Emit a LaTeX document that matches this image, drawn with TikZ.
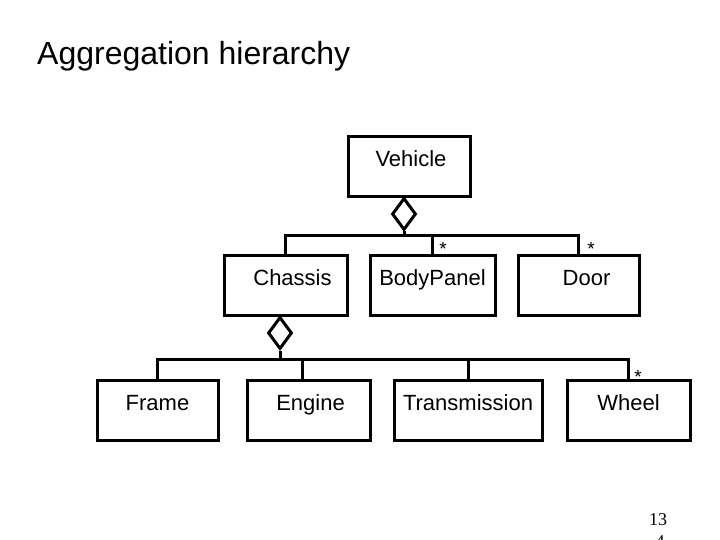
\documentclass[tikz,border=0pt]{standalone}
\usepackage{fontspec}
\setmainfont{Liberation Sans}
\newfontfamily\slidenum{Liberation Serif}
\usetikzlibrary{shapes.geometric}

\begin{document}
\begin{tikzpicture}[x=1pt, y=-1pt,
                    cls/.style = {draw, line width=3pt, shape=rectangle,
                    inner sep=0pt, text height=30pt, text depth=30pt,
                    font=\fontsize{22}{24}\selectfont},
                    agg/.style = {draw, line width=3pt, shape=diamond,
                    inner sep=0pt, minimum width=24pt, minimum height=32pt,
                    anchor=north},
                    link/.style = {line width=3pt},
                    mult/.style = {inner sep=0pt, font=\fontsize{19}{19}\selectfont}]
  \useasboundingbox (0,0) rectangle (720,540);
  \node[anchor=base west, inner sep=0pt, font=\fontsize{32}{36}\selectfont]
    (title) at (37,65) {Aggregation hierarchy};

  % classes
  \node[cls, minimum width=122pt] (vehicle) at (409,166.5) {\hspace*{4pt}Vehicle};
  \node[cls, minimum width=123pt] (chassis) at (285.5,285.5) {\hspace*{14pt}Chassis};
  \node[cls, minimum width=125pt] (panel) at (432.5,285.5) {BodyPanel};
  \node[cls, minimum width=121pt] (door) at (578.5,285.5) {\hspace*{16pt}Door};
  \node[cls, minimum width=121pt] (frame) at (157.5,410.5) {Frame};
  \node[cls, minimum width=123pt] (engine) at (308.5,410.5) {\hspace*{4pt}Engine};
  \node[cls, minimum width=148pt] (trans) at (468,410.5) {Transmission};
  \node[cls, minimum width=123pt] (wheel) at (628.5,410.5) {Wheel};

  % aggregation diamonds
  \node[agg] (vagg) at (404,196.5) {};
  \node[agg] (cagg) at (280,315.5) {};
  \coordinate (vbus) at (404,235);
  \coordinate (cbus) at (280,359);
  \coordinate (etop) at ([xshift=-6pt]engine.north);

  \draw[link] (vagg.south) -- (vbus);
  \draw[link] (chassis.north) -- (chassis.north |- vbus)
    -- (door.north |- vbus) -- (door.north);
  \draw[link] (panel.north |- vbus) -- (panel.north);

  \draw[link] (cagg.south) -- (cbus);
  \draw[link] (frame.north) -- (frame.north |- cbus)
    -- (wheel.north |- cbus) -- (wheel.north);
  \draw[link] (etop |- cbus) -- (etop);
  \draw[link] (trans.north |- cbus) -- (trans.north);

  % multiplicities
  \node[mult] (mpanel) at (443,249) {*};
  \node[mult] (mdoor) at (591,249) {*};
  \node[mult] (mwheel) at (638,377) {*};

  \node[anchor=base, inner sep=0pt, font=\slidenum\fontsize{18}{18}\selectfont]
    (pgno) at (658,525) {13};
  \node[anchor=base, inner sep=0pt, font=\slidenum\fontsize{18}{18}\selectfont]
    (pgcut) at (660,547) {4};
\end{tikzpicture}
\end{document}
